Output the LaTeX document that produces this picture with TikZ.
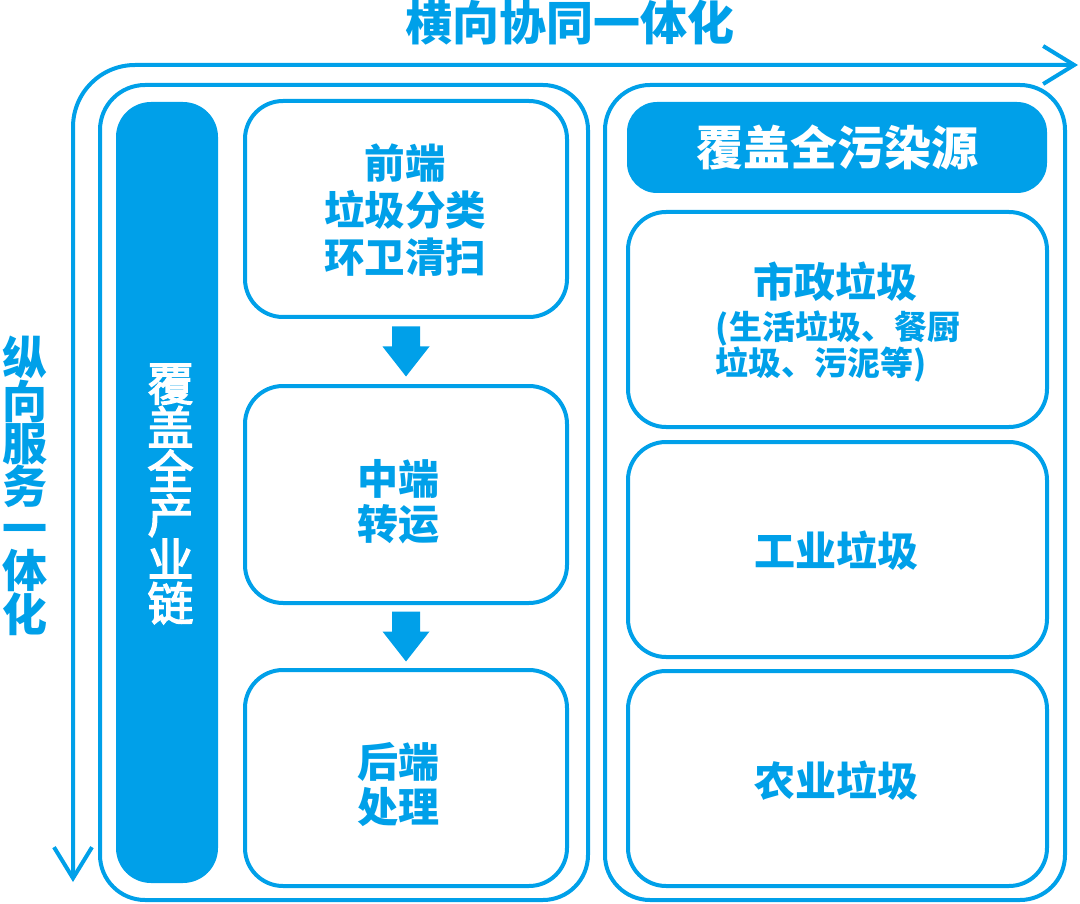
\documentclass[tikz,border=0pt]{standalone}
\usepackage{fontspec}
\setmainfont{Noto Sans CJK SC}
\newfontfamily\barfont{Noto Sans CJK SC}[FakeBold=3]
\usetikzlibrary{arrows.meta}
\definecolor{cblue}{RGB}{0,160,233}
\begin{document}
\begin{tikzpicture}[x=1pt,y=-1pt,
  box/.style={draw=cblue, line width=4pt, rounded corners=38pt, fill=white, inner sep=0pt},
  bigbox/.style={draw=cblue, line width=4pt, rounded corners=45pt, inner sep=0pt},
  solidbox/.style={fill=cblue, draw=none, inner sep=0pt},
  txt/.style={text=cblue, font=\bfseries\fontsize{41}{46}\selectfont, align=center, inner sep=0pt},
  wtxt/.style={text=white, font=\bfseries\fontsize{47}{47}\selectfont, align=center, inner sep=0pt},
  tipb/.tip={Straight Barb[length=31pt,width=38pt]},
  blockarrow/.style={fill=cblue, draw=none}
]
\useasboundingbox (0,0) rectangle (1080,904);

% outer axes arrow
\coordinate (vstart) at (73,882);
\coordinate (corner) at (73,65);
\coordinate (hend) at (1078,65);
\draw[cblue, line width=4pt, rounded corners=62pt, tipb-tipb] (vstart) -- (corner) -- (hend);

% titles
\node[txt, font=\bfseries\fontsize{47}{47}\selectfont] (title) at (570,23) {横向协同一体化};
\node[txt, font=\bfseries\fontsize{45}{42}\selectfont] (vtitle) at (24.5,486) {纵\\向\\服\\务\\一\\体\\化};

% big containers
\node[bigbox, minimum width=488pt, minimum height=815pt] (left) at (344,492.5) {};
\node[bigbox, minimum width=460pt, minimum height=815pt] (right) at (835,492.5) {};

% blue bar
\node[solidbox, rounded corners=35pt, minimum width=102pt, minimum height=781pt] (bar) at (167,492.5) {};
\node[wtxt, font=\barfont\fontsize{46}{44}\selectfont] (bartxt) at (170.5,494) {覆\\盖\\全\\产\\业\\链};

% chain boxes
\node[box, minimum width=322pt, minimum height=216pt] (front) at (406,209) {};
\node[box, minimum width=322pt, minimum height=217pt] (mid) at (406,494.5) {};
\node[box, minimum width=322pt, minimum height=216pt] (back) at (406,778) {};
\node[txt, font=\bfseries\fontsize{40.5}{47}\selectfont] (fronttxt) at (405,210) {前端\\垃圾分类\\环卫清扫};
\node[txt, font=\bfseries\fontsize{41}{45}\selectfont] (midtxt) at (398,502) {中端\\转运};
\node[txt, font=\bfseries\fontsize{41}{45}\selectfont] (backtxt) at (398,785) {后端\\处理};

% block arrows
\path (front.south) -- (mid.north) coordinate[pos=0.5] (a1);
\path (mid.south) -- (back.north) coordinate[pos=0.5] (a2);
\foreach \c in {a1,a2}{
  \fill[blockarrow, shift={(\c)}] (-14,-25) -- (14,-25) -- (14,-5) -- (23.5,-5) -- (0,25) -- (-23.5,-5) -- (-14,-5) -- cycle;
}

% right column
\node[solidbox, rounded corners=30pt, minimum width=420pt, minimum height=91pt] (head) at (837,147.5) {};
\node[wtxt] (headtxt) at (837,148) {覆盖全污染源};
\node[box, minimum width=419pt, minimum height=215pt] (r1) at (837.5,319.5) {};
\node[txt] (r1txt) at (835,282) {市政垃圾};
\node[txt, align=left, font=\bfseries\fontsize{33}{36}\selectfont] (r1sub) at (838,347) {(生活垃圾、餐厨\\垃圾、污泥等)};
\node[box, minimum width=419pt, minimum height=215pt] (r2) at (837.5,549.5) {};
\node[txt] (r2txt) at (836,551) {工业垃圾};
\node[box, minimum width=419pt, minimum height=215pt] (r3) at (837.5,778.5) {};
\node[txt] (r3txt) at (836,781) {农业垃圾};
\end{tikzpicture}
\end{document}
